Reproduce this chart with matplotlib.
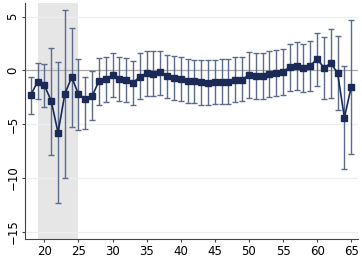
import matplotlib
matplotlib.use('Agg')
import matplotlib.pyplot as plt
import numpy as np

# age, point estimate, upper and lower CI bounds
ages = list(range(18, 66))
est = [-2.3, -1.04, -1.4, -2.83, -5.79, -2.18, -0.64, -2.21, -2.64, -2.4,
       -0.98, -0.82, -0.45, -0.79, -0.91, -1.16, -0.57, -0.27, -0.3, -0.17,
       -0.51, -0.73, -0.79, -0.98, -1.0, -1.07, -1.13, -1.07, -1.04, -1.04,
       -0.85, -0.85, -0.42, -0.51, -0.54, -0.36, -0.23, -0.11, 0.29, 0.44,
       0.23, 0.42, 1.09, 0.23, 0.66, -0.23, -4.4, -1.53]
upper = [-0.6, 0.69, 0.6, 2.08, 0.79, 5.6, 3.93, 1.06, -0.6, -0.08,
         1.15, 1.25, 1.62, 1.28, 1.15, 0.85, 1.59, 1.83, 1.77, 1.83,
         1.46, 1.31, 1.22, 1.06, 1.0, 0.93, 0.93, 1.0, 1.06, 1.09,
         1.25, 1.25, 1.71, 1.62, 1.62, 1.77, 1.86, 2.02, 2.45, 2.67,
         2.45, 2.73, 3.5, 3.1, 3.81, 3.16, 0.44, 4.64]
lower = [-4.06, -2.7, -3.38, -7.83, -12.33, -9.96, -5.23, -5.54, -5.48, -4.62,
         -3.17, -2.92, -2.49, -2.86, -2.95, -3.26, -2.64, -2.4, -2.4, -2.3,
         -2.61, -2.77, -2.83, -3.01, -3.07, -3.17, -3.23, -3.13, -3.1, -3.1,
         -2.89, -2.86, -2.58, -2.64, -2.7, -2.49, -2.4, -2.3, -1.87, -1.78,
         -1.99, -1.93, -1.41, -2.64, -2.58, -3.69, -9.19, -7.73]
shade = (19, 25)
yticks = [5, 0, -5, -10, -15]
xticks = list(range(20, 70, 5))

navy = '#1b2a56'
barcol = '#5c6a8b'

fig = plt.figure(figsize=(3.62, 2.56), dpi=100)
ax = fig.add_axes([0.069, 0.0645, 0.92, 0.924])

ax.axvspan(*shade, color='#e6e6e6', lw=0, zorder=0)
for y in yticks:
    if y != 0:
        ax.axhline(y, color='#eaf0f0', lw=0.9, zorder=0.5)
ax.axhline(0, color='#a8a8a8', lw=0.9, zorder=0.6)

est_a = np.array(est)
yerr = [est_a - np.array(lower), np.array(upper) - est_a]
ax.errorbar(ages, est, yerr=yerr, fmt='none', ecolor=barcol, elinewidth=1.0,
            capsize=2.0, capthick=1.0, zorder=2)
ax.plot(ages, est, color=navy, lw=1.2, marker='s', ms=4.5, mfc=navy, mec=navy,
        zorder=3)

ax.set_xlim(17.15, 66.0)
ax.set_ylim(-15.7, 6.26)
ax.set_xticks(xticks)
ax.set_yticks(yticks)
ax.set_yticklabels(['5', '0', '\u22125', '\u221210', '\u221215'], rotation=90,
                   va='center')
ax.tick_params(labelsize=8.5, length=2.5, width=0.8, color='#444444', pad=1.5)
for s in ['top', 'right']:
    ax.spines[s].set_visible(False)
for s in ['left', 'bottom']:
    ax.spines[s].set_color('#444444')
    ax.spines[s].set_linewidth(0.8)

fig.savefig('out.png', dpi=100)
